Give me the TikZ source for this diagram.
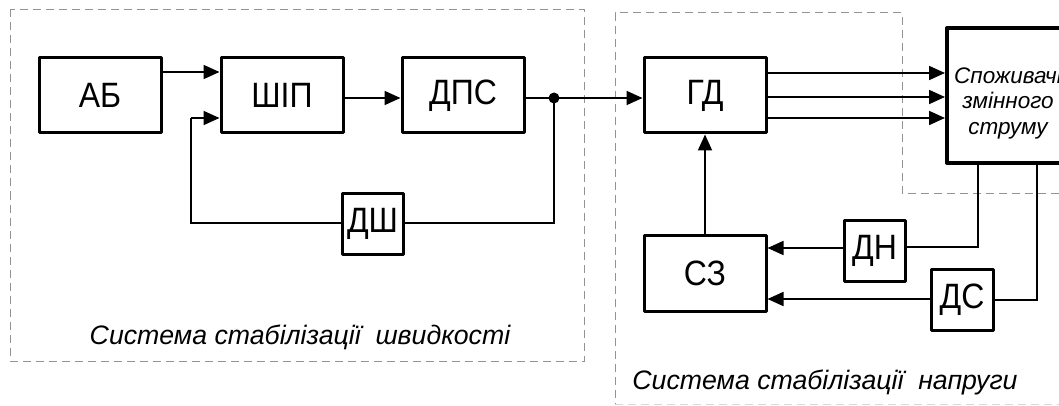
\documentclass[tikz,border=0pt]{standalone}
\usepackage{fontspec}
\usepackage{graphicx}
\setmainfont{Liberation Sans}
\usetikzlibrary{arrows.meta,calc}
\newcommand{\tallt}[1]{\scalebox{1}[1.1]{#1}}
\tikzset{
  blk/.style={draw, line width=3pt, line join=round, minimum width=122pt, minimum height=75pt,
    inner sep=0pt, font=\fontsize{32}{38}\selectfont},
  sblk/.style={blk, minimum width=61pt, minimum height=61pt},
  conn/.style={line width=1.8pt, -{Triangle[length=16pt,width=14pt]}},
  wire/.style={line width=1.6pt},
  frame/.style={draw=gray!85, line width=1pt, dash pattern=on 8pt off 5pt},
  faintframe/.style={draw=gray!30, line width=1pt, dash pattern=on 8pt off 5pt},
  lbl/.style={font=\fontsize{26.7}{32}\selectfont\itshape, inner sep=0pt}
}
\begin{document}
\begin{tikzpicture}[x=1pt,y=-1pt]
\useasboundingbox (0,0) rectangle (1059,406);
\clip (0,0) rectangle (1059,406);
% frames
\draw[frame] (10,9.5) rectangle (584,361);
\draw[frame] (1059,193) -- (902,193) -- (902,13) -- (615,13) -- (615,404);
\draw[faintframe] (615,404) -- (1059,404);
% blocks
\node[blk] (AB) at (100,95.5) {\tallt{АБ}};
\node[blk] (SHIP) at (282,95.5) {\tallt{ШІП}};
\node[blk] (DPS) at (463,95.5) {\tallt{ДПС}};
\node[sblk] (DSH) at (372.5,223.5) {\tallt{ДШ}};
\node[blk] (GD) at (705,95.5) {\tallt{ГД}};
\node[blk, minimum height=76pt] (SZ) at (705,273) {\tallt{СЗ}};
\node[sblk] (DN) at (874.5,250.5) {\tallt{ДН}};
\node[sblk, minimum width=62pt] (DS) at (962,300) {\tallt{ДС}};
\node[blk, line width=4pt, minimum height=135pt] (CONS) at (1008,95.5) {};
\node[align=center, inner sep=0pt, font=\fontsize{22.5}{25.5}\selectfont\itshape] (CONSTXT) at (1008,103) {Споживачі\\змінного\\струму};
% labels
\node[lbl] (L1) at (300,337) {Система стабілізації\ \ швидкості};
\node[lbl] (L2) at (825,382) {Система стабілізації\ \ напруги};
% junction
\coordinate (dot) at (554,98);
\coordinate (fbR) at (554,223);
\coordinate (fbL) at (191,223);
\coordinate (fbU) at (191,118);
\fill (dot) circle (5.5pt);
% connectors
\draw[conn] (AB.east |- 0,72) -- (SHIP.west |- 0,72);
\draw[conn] (SHIP.east |- 0,98) -- (DPS.west |- 0,98);
\draw[wire] (DPS.east |- dot) -- (dot);
\draw[conn] (dot) -- (GD.west |- dot);
\draw[wire] (dot) -- (fbR) -- (DSH.east |- fbR);
\draw[wire] (DSH.west |- fbL) -- (fbL) -- (fbU);
\draw[conn] (fbU) -- (SHIP.west |- fbU);
\draw[conn] (GD.east |- 0,73) -- (CONS.west |- 0,73);
\draw[conn] (GD.east |- 0,97) -- (CONS.west |- 0,97);
\draw[conn] (GD.east |- 0,118) -- (CONS.west |- 0,118);
\draw[conn] (SZ.north) -- (GD.south);
\coordinate (c1) at (978,247);
\coordinate (c2) at (1037,300);
\draw[wire] (CONS.south -| c1) -- (c1) -- (DN.east |- c1);
\draw[wire] (CONS.south -| c2) -- (c2) -- (DS.east |- c2);
\draw[conn] (DN.west |- 0,248) -- (SZ.east |- 0,248);
\draw[conn] (DS.west |- 0,299) -- (SZ.east |- 0,299);
\end{tikzpicture}
\end{document}
